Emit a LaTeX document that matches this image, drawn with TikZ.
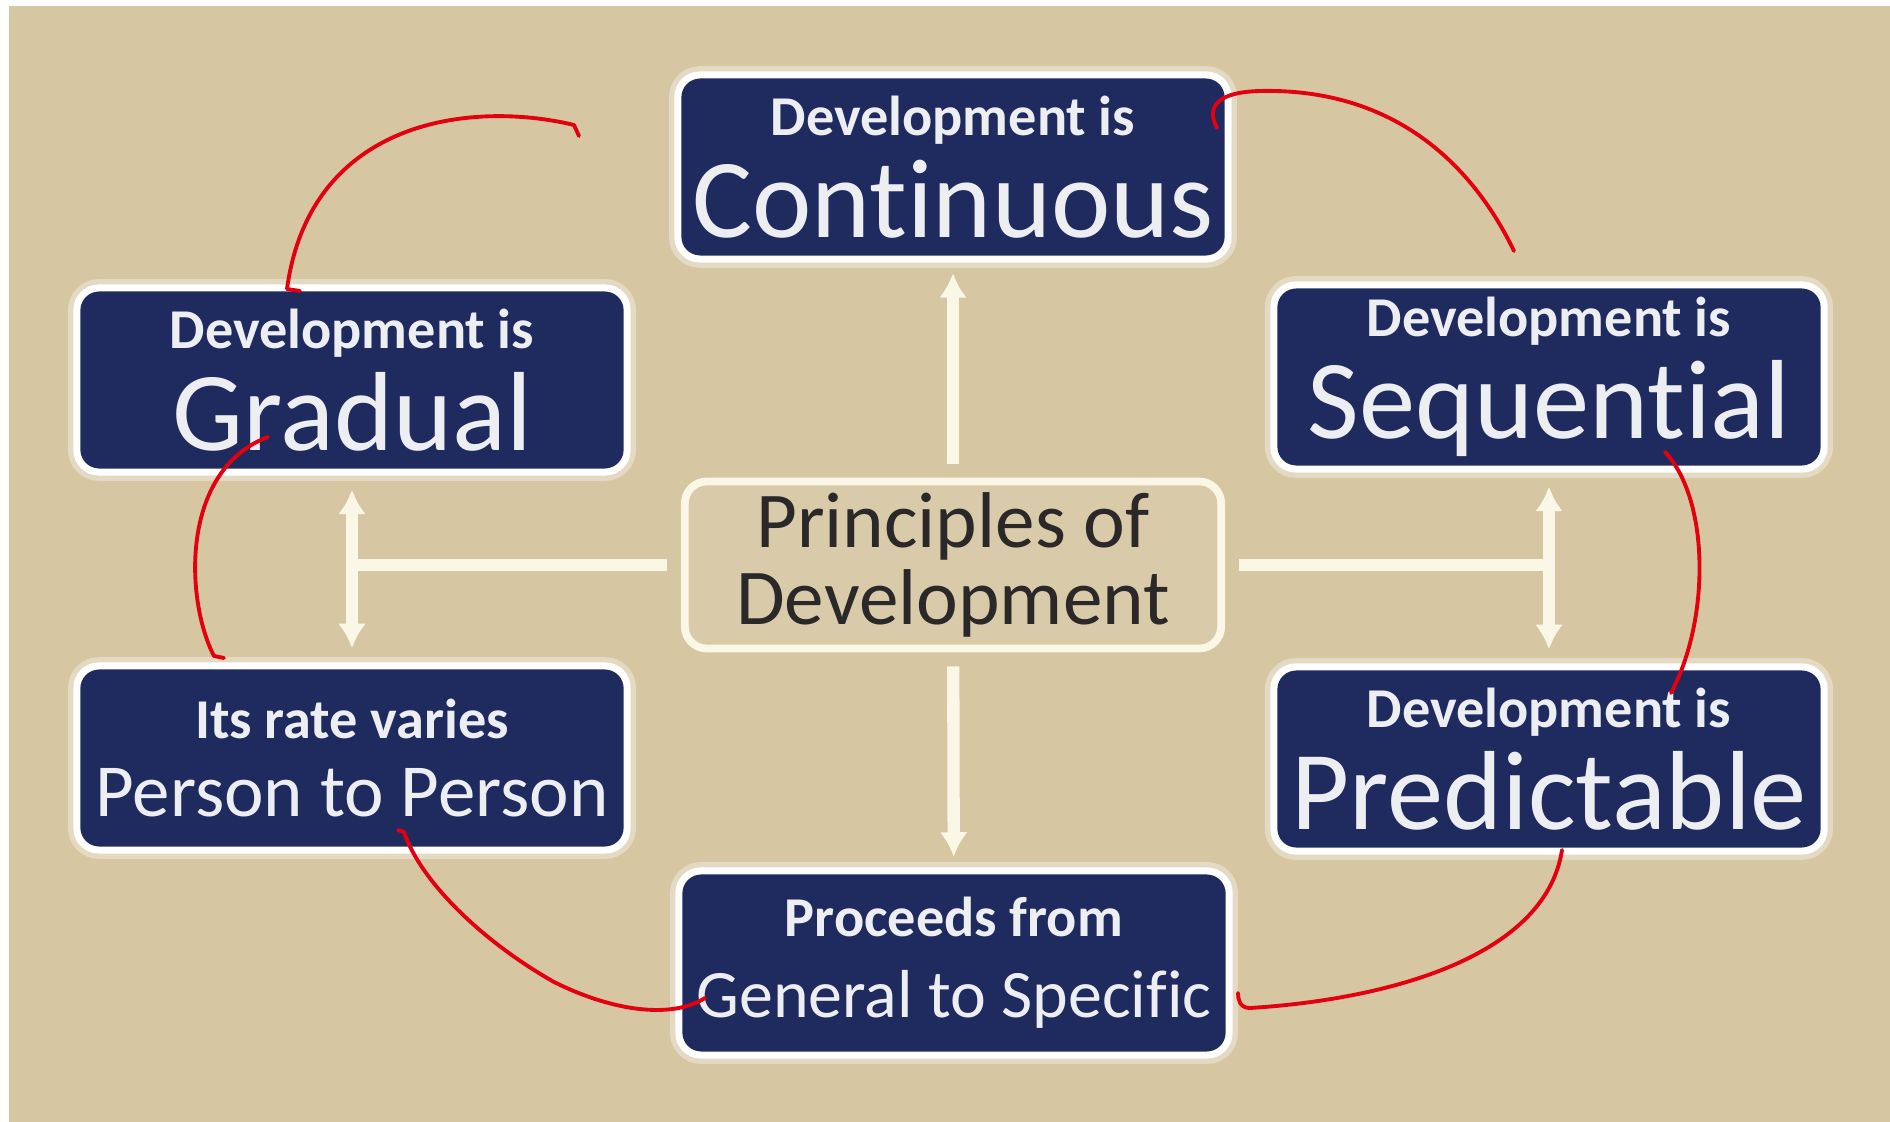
\documentclass[tikz,border=0pt]{standalone}
\usepackage{fontspec}
\setmainfont{Carlito}[Ligatures=NoCommon]
\usetikzlibrary{arrows.meta, calc, positioning}
\definecolor{fond}{HTML}{D6C6A2}
\definecolor{navy}{HTML}{1F2A5E}
\definecolor{creme}{HTML}{FBF7E6}
\definecolor{encre}{HTML}{2A2828}
\definecolor{rouge}{HTML}{E3000F}
\newcommand{\petit}{\fontsize{16}{18}\selectfont\bfseries}
\newcommand{\grand}{\fontsize{32}{34}\selectfont}
\newcommand{\moyen}{\fontsize{21.3}{23}\selectfont}

\begin{document}
\begin{tikzpicture}[x=0.01cm, y=-0.01cm,
    principe/.style={draw=white, line width=2pt, fill=navy, rounded corners=0.22cm,
        preaction={draw=white, line width=5pt, opacity=0.35},
        text=white!92!navy, align=center, inner sep=0pt, font=\grand,
        minimum width=5.5cm, minimum height=1.84cm},
    centre/.style={draw=creme, line width=2.2pt, fill=fond!92!white, rounded corners=0.22cm,
        text=encre, align=center, inner sep=0pt, font=\fontsize{22.5}{25}\selectfont,
        minimum width=5.36cm, minimum height=1.67cm},
    lien/.style={draw=creme, line width=3.5pt, -{Latex[length=7pt,width=8pt]}},
    trait/.style={draw=rouge, line width=1.1pt, line cap=round, line join=round}]

    % fond
    \fill[white] (0,0) rectangle (1890,1122);
    \fill[fond] (9,6) rectangle (1890,1122);

    \node[centre] (prin) at (953,565) {Principles of\\[-3pt]Development};

    \node[principe] (cont) at (953,167) {{\petit Development is}\\[-5pt]Continuous};
    \node[principe] (grad) at (352,380) {{\petit Development is}\\[-5pt]Gradual};
    \node[principe] (sequ) at (1549,377) {{\petit Development is}\\[-5pt]Sequential};
    \node[principe] (pred) at (1549,759) {{\petit Development is}\\[-5pt]Predictable};
    \node[principe, font=\moyen] (pers) at (352,758) {{\petit Its rate varies}\\[-1pt]Person to Person};
    \node[principe, font=\fontsize{19.3}{23}\selectfont] (gene) at (954,963) {{\petit Proceeds from}\\[0pt]General to Specific};

    % liens
    \coordinate (gj) at (grad |- prin);
    \coordinate (sj) at (sequ |- prin);
    \draw[lien, shorten <=4pt, shorten >=3pt] (prin) -- (cont);
    \draw[lien, shorten <=4pt, shorten >=3pt] (prin) -- (gene);
    \draw[lien, -, shorten <=4pt] (prin) -- (gj);
    \draw[lien, -, shorten <=4pt] (prin) -- (sj);
    \draw[lien, {Latex[length=7pt,width=8pt]}-{Latex[length=7pt,width=8pt]}, shorten <=4pt, shorten >=4pt] (grad) -- (pers);
    \draw[lien, {Latex[length=7pt,width=8pt]}-{Latex[length=7pt,width=8pt]}, shorten <=4pt, shorten >=4pt] (sequ) -- (pred);

    % traits rouges
    \draw[trait] (579,136) -- (574,125) .. controls (470,100) and (310,120) .. (287,289) -- (300,291);
    \draw[trait] (1217,128) .. controls (1205,105) and (1220,92) .. (1260,91)
        .. controls (1390,88) and (1470,160) .. (1514,251);
    \draw[trait] (1665,452) .. controls (1710,500) and (1710,620) .. (1671,693);
    \draw[trait] (1562,850) .. controls (1545,960) and (1380,1000) .. (1250,1008)
        .. controls (1240,1008) and (1238,1000) .. (1238,993);
    \draw[trait] (705,998) .. controls (670,1020) and (610,1010) .. (554,982)
        .. controls (480,940) and (420,880) .. (404,832) -- (398,830);
    \draw[trait] (224,658) -- (214,656) .. controls (185,600) and (180,470) .. (268,437);
\end{tikzpicture}
\end{document}
